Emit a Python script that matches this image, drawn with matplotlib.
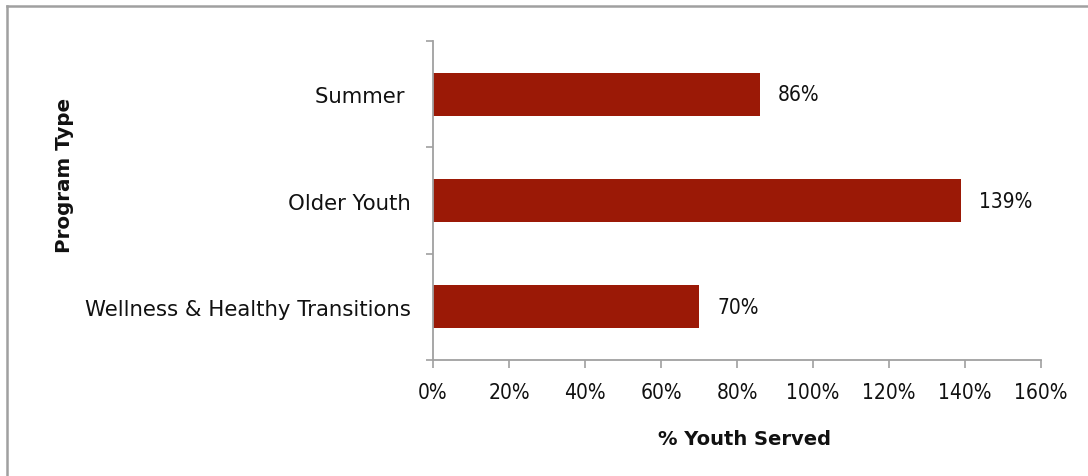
import matplotlib
matplotlib.use("Agg")
import matplotlib.pyplot as plt
from matplotlib.lines import Line2D
from matplotlib.ticker import FixedLocator, PercentFormatter

# program types, top to bottom
programs = ["Summer ", "Older Youth", "Wellness & Healthy Transitions"]
pct_served = [86, 139, 70]
x_ticks = [0, 20, 40, 60, 80, 100, 120, 140, 160]

BAR = "#9B1906"
GRAY = "#A0A0A0"
INK = "#111111"

plt.rcParams["font.family"] = ["DejaVu Sans"]

fig = plt.figure(figsize=(10.88, 4.77), dpi=100)
ax = fig.add_axes([433 / 1088, 1 - 361 / 477, 608 / 1088, 319 / 477])

ypos = list(range(len(programs)))
ax.barh(ypos, pct_served, height=0.405, color=BAR)

for y, v in zip(ypos, pct_served):
    ax.annotate("{}%".format(v), (v, y), xytext=(13, 0), textcoords="offset points",
                va="center", ha="left", fontsize=15, fontstretch="condensed", color=INK)

ax.set_xlim(0, 160)
ax.set_ylim(len(programs) - 0.5, -0.5)
ax.set_xticks(x_ticks)
ax.xaxis.set_major_formatter(PercentFormatter(decimals=0))
ax.set_yticks(ypos)
ax.set_yticklabels(programs, fontsize=15.3)
ax.yaxis.set_minor_locator(FixedLocator([-0.5, 0.5, 1.5, 2.5]))
for lbl in ax.get_xticklabels():
    lbl.set_fontstretch("condensed")

ax.tick_params(axis="y", which="major", length=0, pad=16, labelcolor=INK)
ax.tick_params(axis="y", which="minor", length=5, width=1.2, color=GRAY)
ax.tick_params(axis="x", length=6, width=1.2, color=GRAY, pad=10, labelsize=15, labelcolor=INK)

for s in ["top", "right"]:
    ax.spines[s].set_visible(False)
for s in ["left", "bottom"]:
    ax.spines[s].set_color(GRAY)
    ax.spines[s].set_linewidth(1.3)

fig.text(744 / 1088, 1 - 440 / 477, "% Youth Served", ha="center", va="center",
         fontsize=14, fontweight="bold", color=INK)
fig.text(65 / 1088, 1 - 175 / 477, "Program Type", ha="center", va="center",
         rotation=90, fontsize=14.3, fontweight="bold", color=INK)

# frame lines on the top and left edges
fig.add_artist(Line2D([7 / 1088, 1], [1 - 7 / 477, 1 - 7 / 477], color=GRAY, lw=1.8,
                      transform=fig.transFigure))
fig.add_artist(Line2D([7 / 1088, 7 / 1088], [0, 1 - 7 / 477], color=GRAY, lw=1.8,
                      transform=fig.transFigure))

fig.savefig("out.png", dpi=100)
